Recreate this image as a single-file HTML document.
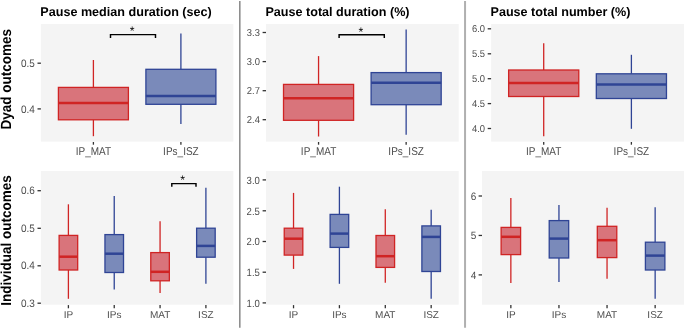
<!DOCTYPE html>
<html><head><meta charset="utf-8"><title>Pause outcomes</title>
<style>html,body{margin:0;padding:0;background:#fff;}body{width:685px;height:329px;overflow:hidden;}svg{display:block;font-family:"Liberation Sans",sans-serif;will-change:transform;text-rendering:geometricPrecision;}.t{font-weight:bold;font-size:12.6px;fill:#000;}.k{font-size:10px;fill:#4d4d4d;}.y{font-weight:bold;font-size:13.5px;fill:#000;}</style></head><body>
<svg width="685" height="329" viewBox="0 0 685 329">
<rect x="0" y="0" width="685" height="329" fill="#ffffff"/>
<line x1="239.8" y1="0.9" x2="239.8" y2="327.8" stroke="#8e8e8e" stroke-width="1.6"/>
<line x1="465.05" y1="0.9" x2="465.05" y2="327.8" stroke="#b0b0b0" stroke-width="2"/>
<text class="y" text-anchor="middle" transform="translate(10.85,79.3) rotate(-90) scale(1,1.09)">Dyad outcomes</text>
<text class="y" text-anchor="middle" transform="translate(10.85,240.4) rotate(-90) scale(1,1.07)">Individual outcomes</text>
<rect x="40.9" y="24" width="192.5" height="117.6" fill="#f4f4f4"/>
<text class="t" x="40.3" y="15.7">Pause median duration (sec)</text>
<line x1="37.5" y1="63.2" x2="40.9" y2="63.2" stroke="#333333" stroke-width="1.3"/>
<text class="k" text-anchor="end" transform="translate(34.8,67) scale(1,1.09)">0.5</text>
<line x1="37.5" y1="108.9" x2="40.9" y2="108.9" stroke="#333333" stroke-width="1.3"/>
<text class="k" text-anchor="end" transform="translate(34.8,112.7) scale(1,1.09)">0.4</text>
<line x1="93.4" y1="142" x2="93.4" y2="144.7" stroke="#333333" stroke-width="1.3"/>
<text class="k" text-anchor="middle" transform="translate(93.4,154.65) scale(1,1.13)">IP_MAT</text>
<line x1="180.9" y1="142" x2="180.9" y2="144.7" stroke="#333333" stroke-width="1.3"/>
<text class="k" text-anchor="middle" transform="translate(180.9,154.65) scale(1,1.13)">IPs_ISZ</text>
<line x1="93.4" y1="60" x2="93.4" y2="87.4" stroke="#d02424" stroke-width="1.3"/>
<line x1="93.4" y1="119.8" x2="93.4" y2="136.2" stroke="#d02424" stroke-width="1.3"/>
<rect x="58.4" y="87.4" width="70" height="32.4" fill="#d9747b" stroke="#d02424" stroke-width="1.3"/>
<line x1="58.4" y1="103" x2="128.4" y2="103" stroke="#d02424" stroke-width="2.5"/>
<line x1="180.9" y1="33.6" x2="180.9" y2="69.3" stroke="#2f4495" stroke-width="1.3"/>
<line x1="180.9" y1="104.3" x2="180.9" y2="123.9" stroke="#2f4495" stroke-width="1.3"/>
<rect x="145.9" y="69.3" width="70" height="35" fill="#7a8aba" stroke="#2f4495" stroke-width="1.3"/>
<line x1="145.9" y1="96" x2="215.9" y2="96" stroke="#2f4495" stroke-width="2.5"/>
<polyline points="110.5,37.9 110.5,34.6 155.5,34.6 155.5,37.9" fill="none" stroke="#000" stroke-width="1.45"/>
<text x="132.15" y="35.35" text-anchor="middle" font-size="12.3" fill="#000">*</text>
<rect x="266" y="24" width="192.7" height="117.6" fill="#f4f4f4"/>
<text class="t" x="265.4" y="15.7">Pause total duration (%)</text>
<line x1="262.6" y1="32.5" x2="266" y2="32.5" stroke="#333333" stroke-width="1.3"/>
<text class="k" text-anchor="end" transform="translate(259.9,36.05) scale(0.94,1)">3.3</text>
<line x1="262.6" y1="61.6" x2="266" y2="61.6" stroke="#333333" stroke-width="1.3"/>
<text class="k" text-anchor="end" transform="translate(259.9,65.15) scale(0.94,1)">3.0</text>
<line x1="262.6" y1="90.7" x2="266" y2="90.7" stroke="#333333" stroke-width="1.3"/>
<text class="k" text-anchor="end" transform="translate(259.9,94.25) scale(0.94,1)">2.7</text>
<line x1="262.6" y1="119.7" x2="266" y2="119.7" stroke="#333333" stroke-width="1.3"/>
<text class="k" text-anchor="end" transform="translate(259.9,123.25) scale(0.94,1)">2.4</text>
<line x1="318.555" y1="142" x2="318.555" y2="144.7" stroke="#333333" stroke-width="1.3"/>
<text class="k" text-anchor="middle" transform="translate(318.555,154.65) scale(1,1.13)">IP_MAT</text>
<line x1="406.145" y1="142" x2="406.145" y2="144.7" stroke="#333333" stroke-width="1.3"/>
<text class="k" text-anchor="middle" transform="translate(406.145,154.65) scale(1,1.13)">IPs_ISZ</text>
<line x1="318.555" y1="56.1" x2="318.555" y2="84.4" stroke="#d02424" stroke-width="1.3"/>
<line x1="318.555" y1="120.3" x2="318.555" y2="136.5" stroke="#d02424" stroke-width="1.3"/>
<rect x="283.518" y="84.4" width="70.0727" height="35.9" fill="#d9747b" stroke="#d02424" stroke-width="1.3"/>
<line x1="283.518" y1="98.2" x2="353.591" y2="98.2" stroke="#d02424" stroke-width="2.5"/>
<line x1="406.145" y1="29.6" x2="406.145" y2="72.6" stroke="#2f4495" stroke-width="1.3"/>
<line x1="406.145" y1="104.7" x2="406.145" y2="134.8" stroke="#2f4495" stroke-width="1.3"/>
<rect x="371.109" y="72.6" width="70.0727" height="32.1" fill="#7a8aba" stroke="#2f4495" stroke-width="1.3"/>
<line x1="371.109" y1="82.7" x2="441.182" y2="82.7" stroke="#2f4495" stroke-width="2.5"/>
<polyline points="339.1,38 339.1,34.75 384.3,34.75 384.3,38" fill="none" stroke="#000" stroke-width="1.45"/>
<text x="361" y="35.5" text-anchor="middle" font-size="12.3" fill="#000">*</text>
<rect x="491.1" y="24" width="192.9" height="117.6" fill="#f4f4f4"/>
<text class="t" x="490.5" y="15.7">Pause total number (%)</text>
<line x1="487.7" y1="28.8" x2="491.1" y2="28.8" stroke="#333333" stroke-width="1.3"/>
<text class="k" text-anchor="end" transform="translate(485,32.25) scale(0.94,1)">6.0</text>
<line x1="487.7" y1="53.8" x2="491.1" y2="53.8" stroke="#333333" stroke-width="1.3"/>
<text class="k" text-anchor="end" transform="translate(485,57.25) scale(0.94,1)">5.5</text>
<line x1="487.7" y1="78.7" x2="491.1" y2="78.7" stroke="#333333" stroke-width="1.3"/>
<text class="k" text-anchor="end" transform="translate(485,82.15) scale(0.94,1)">5.0</text>
<line x1="487.7" y1="103.6" x2="491.1" y2="103.6" stroke="#333333" stroke-width="1.3"/>
<text class="k" text-anchor="end" transform="translate(485,107.05) scale(0.94,1)">4.5</text>
<line x1="487.7" y1="128.5" x2="491.1" y2="128.5" stroke="#333333" stroke-width="1.3"/>
<text class="k" text-anchor="end" transform="translate(485,131.95) scale(0.94,1)">4.0</text>
<line x1="543.709" y1="142" x2="543.709" y2="144.7" stroke="#333333" stroke-width="1.3"/>
<text class="k" text-anchor="middle" transform="translate(543.709,154.65) scale(1,1.13)">IP_MAT</text>
<line x1="631.391" y1="142" x2="631.391" y2="144.7" stroke="#333333" stroke-width="1.3"/>
<text class="k" text-anchor="middle" transform="translate(631.391,154.65) scale(1,1.13)">IPs_ISZ</text>
<line x1="543.709" y1="43.2" x2="543.709" y2="70" stroke="#d02424" stroke-width="1.3"/>
<line x1="543.709" y1="96.5" x2="543.709" y2="136.3" stroke="#d02424" stroke-width="1.3"/>
<rect x="508.636" y="70" width="70.1455" height="26.5" fill="#d9747b" stroke="#d02424" stroke-width="1.3"/>
<line x1="508.636" y1="82.9" x2="578.782" y2="82.9" stroke="#d02424" stroke-width="2.5"/>
<line x1="631.391" y1="54.8" x2="631.391" y2="73.8" stroke="#2f4495" stroke-width="1.3"/>
<line x1="631.391" y1="98.5" x2="631.391" y2="128.8" stroke="#2f4495" stroke-width="1.3"/>
<rect x="596.318" y="73.8" width="70.1455" height="24.7" fill="#7a8aba" stroke="#2f4495" stroke-width="1.3"/>
<line x1="596.318" y1="84.4" x2="666.464" y2="84.4" stroke="#2f4495" stroke-width="2.5"/>
<rect x="40.9" y="171" width="192.5" height="133.7" fill="#f4f4f4"/>
<line x1="37.5" y1="190.7" x2="40.9" y2="190.7" stroke="#333333" stroke-width="1.3"/>
<text class="k" text-anchor="end" transform="translate(34.8,194.25) scale(1,1.08)">0.6</text>
<line x1="37.5" y1="228.3" x2="40.9" y2="228.3" stroke="#333333" stroke-width="1.3"/>
<text class="k" text-anchor="end" transform="translate(34.8,231.85) scale(1,1.08)">0.5</text>
<line x1="37.5" y1="265.8" x2="40.9" y2="265.8" stroke="#333333" stroke-width="1.3"/>
<text class="k" text-anchor="end" transform="translate(34.8,269.35) scale(1,1.08)">0.4</text>
<line x1="37.5" y1="303.2" x2="40.9" y2="303.2" stroke="#333333" stroke-width="1.3"/>
<text class="k" text-anchor="end" transform="translate(34.8,306.75) scale(1,1.08)">0.3</text>
<line x1="68.4" y1="305.1" x2="68.4" y2="308.3" stroke="#333333" stroke-width="1.3"/>
<text class="k" text-anchor="middle" x="68.4" y="318.3">IP</text>
<line x1="114.233" y1="305.1" x2="114.233" y2="308.3" stroke="#333333" stroke-width="1.3"/>
<text class="k" text-anchor="middle" x="114.233" y="318.3">IPs</text>
<line x1="160.067" y1="305.1" x2="160.067" y2="308.3" stroke="#333333" stroke-width="1.3"/>
<text class="k" text-anchor="middle" x="160.067" y="318.3">MAT</text>
<line x1="205.9" y1="305.1" x2="205.9" y2="308.3" stroke="#333333" stroke-width="1.3"/>
<text class="k" text-anchor="middle" x="205.9" y="318.3">ISZ</text>
<line x1="68.4" y1="204.3" x2="68.4" y2="235.4" stroke="#d02424" stroke-width="1.3"/>
<line x1="68.4" y1="270" x2="68.4" y2="298.8" stroke="#d02424" stroke-width="1.3"/>
<rect x="59.1187" y="235.4" width="18.5625" height="34.6" fill="#d9747b" stroke="#d02424" stroke-width="1.3"/>
<line x1="59.1187" y1="256.7" x2="77.6812" y2="256.7" stroke="#d02424" stroke-width="2.5"/>
<line x1="114.233" y1="196" x2="114.233" y2="234.6" stroke="#2f4495" stroke-width="1.3"/>
<line x1="114.233" y1="272.5" x2="114.233" y2="289.5" stroke="#2f4495" stroke-width="1.3"/>
<rect x="104.952" y="234.6" width="18.5625" height="37.9" fill="#7a8aba" stroke="#2f4495" stroke-width="1.3"/>
<line x1="104.952" y1="253.7" x2="123.515" y2="253.7" stroke="#2f4495" stroke-width="2.5"/>
<line x1="160.067" y1="221.2" x2="160.067" y2="252.6" stroke="#d02424" stroke-width="1.3"/>
<line x1="160.067" y1="280.8" x2="160.067" y2="292.9" stroke="#d02424" stroke-width="1.3"/>
<rect x="150.785" y="252.6" width="18.5625" height="28.2" fill="#d9747b" stroke="#d02424" stroke-width="1.3"/>
<line x1="150.785" y1="271.8" x2="169.348" y2="271.8" stroke="#d02424" stroke-width="2.5"/>
<line x1="205.9" y1="187.7" x2="205.9" y2="228.2" stroke="#2f4495" stroke-width="1.3"/>
<line x1="205.9" y1="257.2" x2="205.9" y2="283.7" stroke="#2f4495" stroke-width="1.3"/>
<rect x="196.619" y="228.2" width="18.5625" height="29" fill="#7a8aba" stroke="#2f4495" stroke-width="1.3"/>
<line x1="196.619" y1="245.9" x2="215.181" y2="245.9" stroke="#2f4495" stroke-width="2.5"/>
<polyline points="171.8,186.8 171.8,183.6 196,183.6 196,186.8" fill="none" stroke="#000" stroke-width="1.45"/>
<text x="182.55" y="183.66" text-anchor="middle" font-size="12.3" fill="#000">*</text>
<rect x="266" y="171" width="192.7" height="133.7" fill="#f4f4f4"/>
<line x1="262.6" y1="179.9" x2="266" y2="179.9" stroke="#333333" stroke-width="1.3"/>
<text class="k" text-anchor="end" transform="translate(259.9,183.8) scale(0.955,1.05)">3.0</text>
<line x1="262.6" y1="210.8" x2="266" y2="210.8" stroke="#333333" stroke-width="1.3"/>
<text class="k" text-anchor="end" transform="translate(259.9,214.7) scale(0.955,1.05)">2.5</text>
<line x1="262.6" y1="241.5" x2="266" y2="241.5" stroke="#333333" stroke-width="1.3"/>
<text class="k" text-anchor="end" transform="translate(259.9,245.4) scale(0.955,1.05)">2.0</text>
<line x1="262.6" y1="272.2" x2="266" y2="272.2" stroke="#333333" stroke-width="1.3"/>
<text class="k" text-anchor="end" transform="translate(259.9,276.1) scale(0.955,1.05)">1.5</text>
<line x1="262.6" y1="302.9" x2="266" y2="302.9" stroke="#333333" stroke-width="1.3"/>
<text class="k" text-anchor="end" transform="translate(259.9,306.8) scale(0.955,1.05)">1.0</text>
<line x1="293.529" y1="305.1" x2="293.529" y2="308.3" stroke="#333333" stroke-width="1.3"/>
<text class="k" text-anchor="middle" x="293.529" y="318.3">IP</text>
<line x1="339.41" y1="305.1" x2="339.41" y2="308.3" stroke="#333333" stroke-width="1.3"/>
<text class="k" text-anchor="middle" x="339.41" y="318.3">IPs</text>
<line x1="385.29" y1="305.1" x2="385.29" y2="308.3" stroke="#333333" stroke-width="1.3"/>
<text class="k" text-anchor="middle" x="385.29" y="318.3">MAT</text>
<line x1="431.171" y1="305.1" x2="431.171" y2="308.3" stroke="#333333" stroke-width="1.3"/>
<text class="k" text-anchor="middle" x="431.171" y="318.3">ISZ</text>
<line x1="293.529" y1="192.9" x2="293.529" y2="228.2" stroke="#d02424" stroke-width="1.3"/>
<line x1="293.529" y1="255.1" x2="293.529" y2="268.9" stroke="#d02424" stroke-width="1.3"/>
<rect x="284.238" y="228.2" width="18.5818" height="26.9" fill="#d9747b" stroke="#d02424" stroke-width="1.3"/>
<line x1="284.238" y1="238.7" x2="302.819" y2="238.7" stroke="#d02424" stroke-width="2.5"/>
<line x1="339.41" y1="186.7" x2="339.41" y2="214.4" stroke="#2f4495" stroke-width="1.3"/>
<line x1="339.41" y1="247.4" x2="339.41" y2="283.8" stroke="#2f4495" stroke-width="1.3"/>
<rect x="330.119" y="214.4" width="18.5818" height="33" fill="#7a8aba" stroke="#2f4495" stroke-width="1.3"/>
<line x1="330.119" y1="233.6" x2="348.7" y2="233.6" stroke="#2f4495" stroke-width="2.5"/>
<line x1="385.29" y1="209.3" x2="385.29" y2="235.5" stroke="#d02424" stroke-width="1.3"/>
<line x1="385.29" y1="267.4" x2="385.29" y2="282.8" stroke="#d02424" stroke-width="1.3"/>
<rect x="376" y="235.5" width="18.5818" height="31.9" fill="#d9747b" stroke="#d02424" stroke-width="1.3"/>
<line x1="376" y1="256.2" x2="394.581" y2="256.2" stroke="#d02424" stroke-width="2.5"/>
<line x1="431.171" y1="209.8" x2="431.171" y2="225.9" stroke="#2f4495" stroke-width="1.3"/>
<line x1="431.171" y1="271.5" x2="431.171" y2="298.7" stroke="#2f4495" stroke-width="1.3"/>
<rect x="421.881" y="225.9" width="18.5818" height="45.6" fill="#7a8aba" stroke="#2f4495" stroke-width="1.3"/>
<line x1="421.881" y1="236.9" x2="440.462" y2="236.9" stroke="#2f4495" stroke-width="2.5"/>
<rect x="482" y="171" width="202" height="133.7" fill="#f4f4f4"/>
<line x1="478.6" y1="196" x2="482" y2="196" stroke="#333333" stroke-width="1.3"/>
<text class="k" text-anchor="end" transform="translate(476.4,199.65) scale(1,1.06)">6</text>
<line x1="478.6" y1="235.45" x2="482" y2="235.45" stroke="#333333" stroke-width="1.3"/>
<text class="k" text-anchor="end" transform="translate(476.4,239.1) scale(1,1.06)">5</text>
<line x1="478.6" y1="274.9" x2="482" y2="274.9" stroke="#333333" stroke-width="1.3"/>
<text class="k" text-anchor="end" transform="translate(476.4,278.55) scale(1,1.06)">4</text>
<line x1="510.857" y1="305.1" x2="510.857" y2="308.3" stroke="#333333" stroke-width="1.3"/>
<text class="k" text-anchor="middle" x="510.857" y="318.3">IP</text>
<line x1="558.952" y1="305.1" x2="558.952" y2="308.3" stroke="#333333" stroke-width="1.3"/>
<text class="k" text-anchor="middle" x="558.952" y="318.3">IPs</text>
<line x1="607.048" y1="305.1" x2="607.048" y2="308.3" stroke="#333333" stroke-width="1.3"/>
<text class="k" text-anchor="middle" x="607.048" y="318.3">MAT</text>
<line x1="655.143" y1="305.1" x2="655.143" y2="308.3" stroke="#333333" stroke-width="1.3"/>
<text class="k" text-anchor="middle" x="655.143" y="318.3">ISZ</text>
<line x1="510.857" y1="198" x2="510.857" y2="227.4" stroke="#d02424" stroke-width="1.3"/>
<line x1="510.857" y1="254.6" x2="510.857" y2="283" stroke="#d02424" stroke-width="1.3"/>
<rect x="501.118" y="227.4" width="19.4786" height="27.2" fill="#d9747b" stroke="#d02424" stroke-width="1.3"/>
<line x1="501.118" y1="236.8" x2="520.596" y2="236.8" stroke="#d02424" stroke-width="2.5"/>
<line x1="558.952" y1="205" x2="558.952" y2="220.6" stroke="#2f4495" stroke-width="1.3"/>
<line x1="558.952" y1="258" x2="558.952" y2="282" stroke="#2f4495" stroke-width="1.3"/>
<rect x="549.213" y="220.6" width="19.4786" height="37.4" fill="#7a8aba" stroke="#2f4495" stroke-width="1.3"/>
<line x1="549.213" y1="238.6" x2="568.692" y2="238.6" stroke="#2f4495" stroke-width="2.5"/>
<line x1="607.048" y1="207.8" x2="607.048" y2="226.3" stroke="#d02424" stroke-width="1.3"/>
<line x1="607.048" y1="257.6" x2="607.048" y2="278.7" stroke="#d02424" stroke-width="1.3"/>
<rect x="597.308" y="226.3" width="19.4786" height="31.3" fill="#d9747b" stroke="#d02424" stroke-width="1.3"/>
<line x1="597.308" y1="240.2" x2="616.787" y2="240.2" stroke="#d02424" stroke-width="2.5"/>
<line x1="655.143" y1="207.3" x2="655.143" y2="242.2" stroke="#2f4495" stroke-width="1.3"/>
<line x1="655.143" y1="270" x2="655.143" y2="298.7" stroke="#2f4495" stroke-width="1.3"/>
<rect x="645.404" y="242.2" width="19.4786" height="27.8" fill="#7a8aba" stroke="#2f4495" stroke-width="1.3"/>
<line x1="645.404" y1="255.6" x2="664.882" y2="255.6" stroke="#2f4495" stroke-width="2.5"/>
</svg></body></html>
